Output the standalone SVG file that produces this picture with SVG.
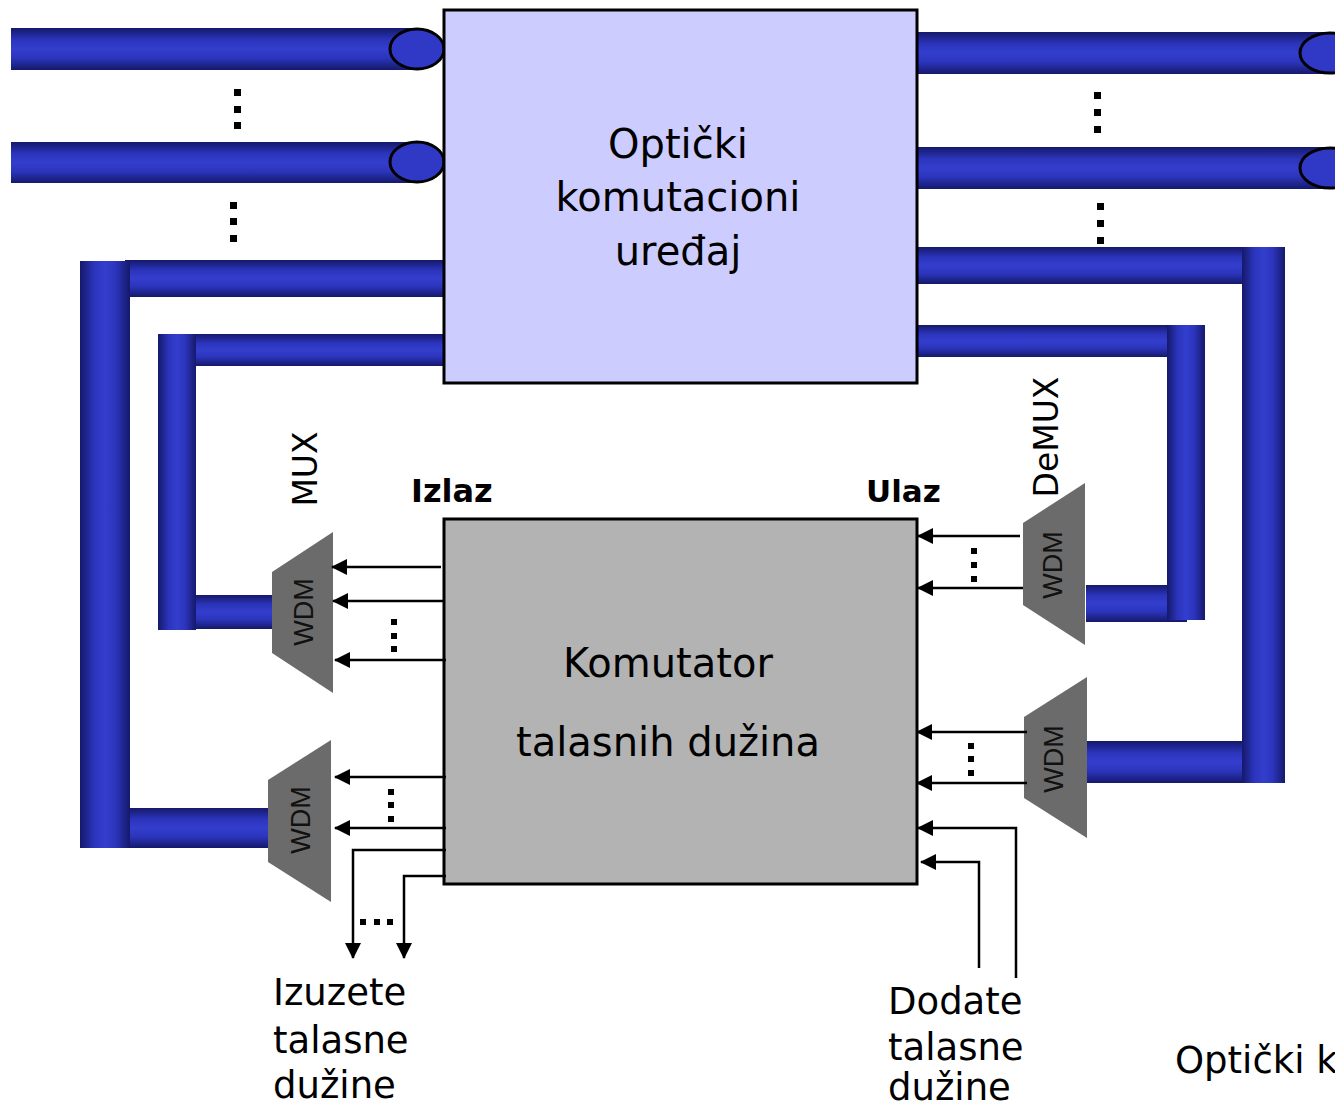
<svg xmlns="http://www.w3.org/2000/svg" width="1335" height="1110" viewBox="0 0 1335 1110">
<defs>
<linearGradient id="gh" x1="0" y1="0" x2="0" y2="1">
<stop offset="0" stop-color="#15196a"/><stop offset="0.28" stop-color="#2b34bb"/><stop offset="0.5" stop-color="#333ecd"/><stop offset="0.72" stop-color="#2b34bb"/><stop offset="1" stop-color="#15196a"/>
</linearGradient>
<linearGradient id="gv" x1="0" y1="0" x2="1" y2="0">
<stop offset="0" stop-color="#15196a"/><stop offset="0.28" stop-color="#2b34bb"/><stop offset="0.5" stop-color="#333ecd"/><stop offset="0.72" stop-color="#2b34bb"/><stop offset="1" stop-color="#15196a"/>
</linearGradient>
<marker id="arr" viewBox="0 0 16 16" markerWidth="16" markerHeight="16" refX="15" refY="8" orient="auto" markerUnits="userSpaceOnUse">
<path d="M0,0 L16,8 L0,16 z" fill="#000"/>
</marker>
<style>
.h{fill:url(#gh)}
.v{fill:url(#gv)}
.cap{fill:#3039c6;stroke:#000;stroke-width:3}
.wdm{fill:#6b6b6b}
.wt{font-family:"Liberation Sans",Arial,sans-serif;font-size:27px;fill:#111;text-anchor:middle}
.lbl{font-family:"DejaVu Sans",sans-serif;fill:#000}
.big{font-size:40px;text-anchor:middle}
.bt{font-size:37px}
.ln{fill:none;stroke:#000;stroke-width:2.5}
.d{fill:#000}
</style>
</defs>

<g id="fibers">
<rect class="h" x="11" y="28" width="410" height="42"/>
<ellipse class="cap" cx="417" cy="49" rx="27" ry="20"/>
<rect class="h" x="11" y="142" width="410" height="41"/>
<ellipse class="cap" cx="417" cy="162" rx="27" ry="20"/>
<rect class="h" x="918" y="32" width="415" height="42"/>
<ellipse class="cap" cx="1330" cy="53" rx="30" ry="20"/>
<rect class="h" x="918" y="147" width="415" height="42"/>
<ellipse class="cap" cx="1330" cy="168" rx="30" ry="20"/>
<!-- left outer loop -->
<rect class="h" x="125" y="260" width="320" height="37"/>
<rect class="h" x="125" y="808" width="148" height="40"/>
<rect class="v" x="80" y="261" width="50" height="587"/>
<!-- left inner loop -->
<rect class="h" x="192" y="334" width="253" height="32"/>
<rect class="h" x="192" y="595" width="84" height="34"/>
<rect class="v" x="158" y="334" width="38" height="296"/>
<!-- right outer loop -->
<rect class="h" x="917" y="247" width="330" height="37"/>
<rect class="h" x="1086" y="741" width="160" height="42"/>
<rect class="v" x="1242" y="247" width="43" height="536"/>
<!-- right inner loop -->
<rect class="h" x="917" y="325" width="254" height="32"/>
<rect class="h" x="1086" y="585" width="101" height="37"/>
<rect class="v" x="1167" y="325" width="38" height="295"/>
</g>

<g id="dots">
<rect class="d" x="234" y="89" width="7" height="7"/><rect class="d" x="234" y="106" width="7" height="7"/><rect class="d" x="234" y="122" width="7" height="7"/>
<rect class="d" x="230" y="202" width="7" height="7"/><rect class="d" x="230" y="218" width="7" height="7"/><rect class="d" x="230" y="235" width="7" height="7"/>
<rect class="d" x="1094" y="92" width="7" height="7"/><rect class="d" x="1094" y="109" width="7" height="7"/><rect class="d" x="1094" y="126" width="7" height="7"/>
<rect class="d" x="1097" y="203" width="7" height="7"/><rect class="d" x="1097" y="220" width="7" height="7"/><rect class="d" x="1097" y="237" width="7" height="7"/>
<rect class="d" x="391" y="619" width="6" height="6"/><rect class="d" x="391" y="633" width="6" height="6"/><rect class="d" x="391" y="646" width="6" height="6"/>
<rect class="d" x="388" y="789" width="6" height="6"/><rect class="d" x="388" y="802" width="6" height="6"/><rect class="d" x="388" y="816" width="6" height="6"/>
<rect class="d" x="360" y="919" width="6" height="6"/><rect class="d" x="374" y="919" width="6" height="6"/><rect class="d" x="387" y="919" width="6" height="6"/>
<rect class="d" x="971" y="548" width="6" height="6"/><rect class="d" x="971" y="562" width="6" height="6"/><rect class="d" x="971" y="576" width="6" height="6"/>
<rect class="d" x="968" y="743" width="6" height="6"/><rect class="d" x="968" y="756" width="6" height="6"/><rect class="d" x="968" y="770" width="6" height="6"/>
</g>

<g id="optical-switch">
<rect x="444" y="10" width="473" height="373" fill="#ccccff" stroke="#000" stroke-width="3"/>
<text class="lbl big" x="678" y="158">Optički</text>
<text class="lbl big" x="678" y="211">komutacioni</text>
<text class="lbl big" x="678" y="265">uređaj</text>
</g>

<g id="wavelength-switch">
<rect x="444" y="519" width="473" height="365" fill="#b3b3b3" stroke="#000" stroke-width="3"/>
<text class="lbl big" x="668" y="677">Komutator</text>
<text class="lbl big" x="668" y="756">talasnih dužina</text>
</g>

<g id="wdm-mux-top">
<polygon class="wdm" points="272,572 333,532 333,693 272,653"/>
<text class="wt" transform="translate(303,612) rotate(-90)" y="10">WDM</text>
</g>
<g id="wdm-mux-bottom">
<polygon class="wdm" points="268,780 331,740 331,902 268,862"/>
<text class="wt" transform="translate(300,820) rotate(-90)" y="10">WDM</text>
</g>
<g id="wdm-demux-top">
<polygon class="wdm" points="1023,523 1085,483 1085,645 1023,605"/>
<text class="wt" transform="translate(1052,565) rotate(-90)" y="10">WDM</text>
</g>
<g id="wdm-demux-bottom">
<polygon class="wdm" points="1024,717 1087,677 1087,838 1024,798"/>
<text class="wt" transform="translate(1053,759) rotate(-90)" y="10">WDM</text>
</g>

<g id="labels">
<text class="lbl" font-size="33" text-anchor="middle" transform="translate(305,469) rotate(-90)" y="12">MUX</text>
<text class="lbl" font-size="33" text-anchor="middle" transform="translate(1046,437) rotate(-90)" y="12">DeMUX</text>
<text class="lbl" font-size="32" font-weight="bold" x="411" y="502">Izlaz</text>
<text class="lbl" font-size="31" font-weight="bold" x="866" y="502">Ulaz</text>
<text class="lbl bt" x="273" y="1005">Izuzete</text>
<text class="lbl bt" x="273" y="1053">talasne</text>
<text class="lbl bt" x="273" y="1098">dužine</text>
<text class="lbl bt" x="888" y="1014">Dodate</text>
<text class="lbl bt" x="888" y="1060">talasne</text>
<text class="lbl bt" x="888" y="1100">dužine</text>
<text class="lbl bt" x="1175" y="1073">Optički k</text>
</g>

<g id="connectors">
<line class="ln" x1="441" y1="567" x2="332" y2="567" marker-end="url(#arr)"/>
<line class="ln" x1="444" y1="601" x2="333" y2="601" marker-end="url(#arr)"/>
<line class="ln" x1="446" y1="660" x2="335" y2="660" marker-end="url(#arr)"/>
<line class="ln" x1="446" y1="777" x2="335" y2="777" marker-end="url(#arr)"/>
<line class="ln" x1="446" y1="828" x2="335" y2="828" marker-end="url(#arr)"/>
<path class="ln" d="M446,850 H353 V958" marker-end="url(#arr)"/>
<path class="ln" d="M446,876 H404 V958" marker-end="url(#arr)"/>
<line class="ln" x1="1020" y1="536" x2="918" y2="536" marker-end="url(#arr)"/>
<line class="ln" x1="1023" y1="588" x2="918" y2="588" marker-end="url(#arr)"/>
<line class="ln" x1="1027" y1="732" x2="917" y2="732" marker-end="url(#arr)"/>
<line class="ln" x1="1027" y1="783" x2="917" y2="783" marker-end="url(#arr)"/>
<path class="ln" d="M1016,978 V828 H918" marker-end="url(#arr)"/>
<path class="ln" d="M979,968 V862 H921" marker-end="url(#arr)"/>
</g>
</svg>
